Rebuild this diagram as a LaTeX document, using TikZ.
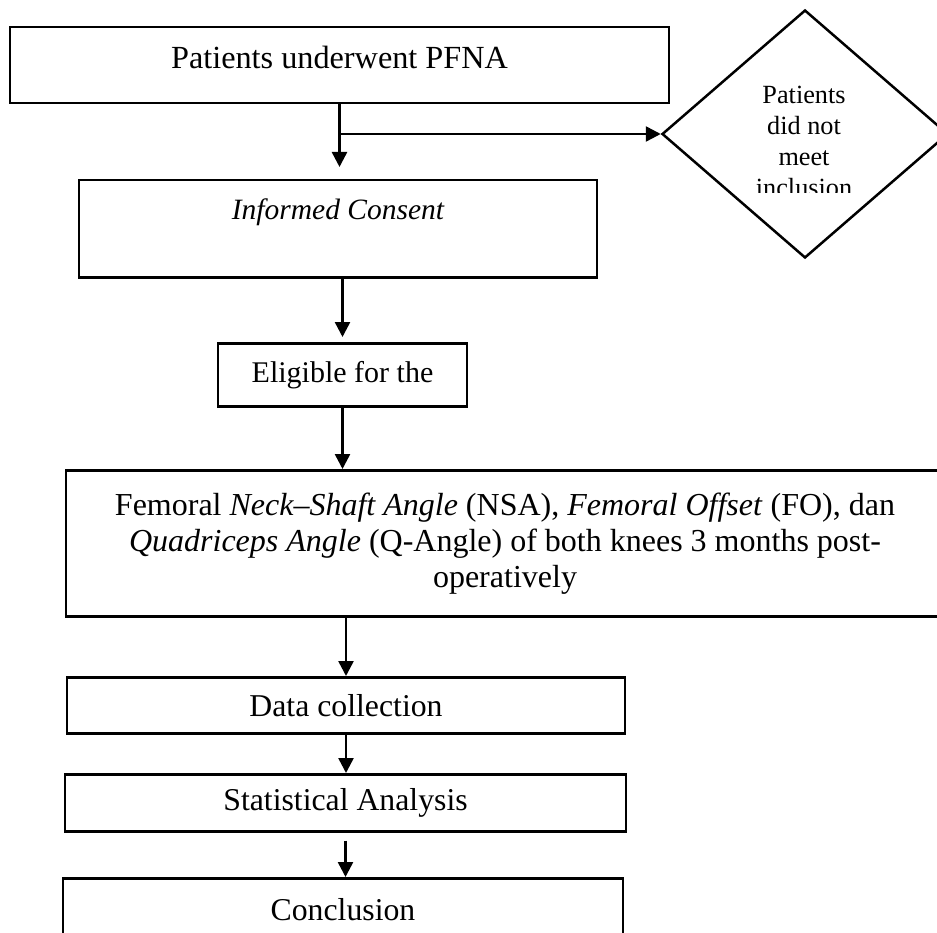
\documentclass[tikz,border=0pt]{standalone}
\usepackage{fontspec}
\setmainfont{Liberation Serif}
\usetikzlibrary{arrows.meta,shapes.geometric}

\begin{document}
\begin{tikzpicture}[x=0.4pt,y=-0.4pt,line width=1pt,>={Triangle[length=6pt,width=6pt]},
	box/.style={draw,rectangle,inner sep=0pt,anchor=north,align=center,font=\fontsize{12}{14.4}\selectfont},
	lowbox/.style={box,font=\fontsize{12.7}{14.4}\selectfont}]
			\useasboundingbox (0,0) rectangle (937,932);
			\node[box,minimum width=263.6pt,text height=16.4pt,text depth=14pt,font=\fontsize{12.9}{14.4}\selectfont] (pfna) at (339.5,26) {Patients underwent PFNA};
			\node[box,minimum width=207.2pt,text height=15.6pt,text depth=23.2pt,font=\fontsize{11.8}{14.4}\selectfont\itshape] (consent) at (338,179) {Informed Consent};
			\node[box,minimum width=99.6pt,minimum height=25.2pt] (elig) at (342.5,342) {Eligible for the};
			\node[box,minimum width=351.2pt,minimum height=58.4pt,font=\fontsize{12.8}{14.4}\selectfont] (meas) at (505,469) {Femoral \textit{Neck–Shaft Angle} (NSA), \textit{Femoral Offset} (FO), dan\\\textit{Quadriceps Angle} (Q-Angle) of both knees 3 months post-\\operatively};
			\node[lowbox,minimum width=223.2pt,minimum height=22.4pt] (collect) at (346,676) {Data collection};
			\node[lowbox,minimum width=224.4pt,minimum height=22.8pt] (stats) at (345.5,773) {Statistical Analysis};
			\node[lowbox,minimum width=224pt,minimum height=24.8pt] (concl) at (343,877) {Conclusion};
			\node[draw,diamond,inner sep=0pt,minimum width=114.4pt,minimum height=99.2pt] (excl) at (805,134) {};
			\begin{scope}
				\clip (700,60) rectangle (910,193);
				\node[inner sep=0pt,anchor=north,align=center,font=\fontsize{10.5}{12.4}\selectfont] (excltxt) at (804,85) {Patients\\did not\\meet\\inclusion};
			\end{scope}
			\draw[->,shorten >=4.8pt] (pfna.south) -- (pfna.south |- consent.north);
			\draw[->] (pfna.south |- excl.west) -- (excl.west);
			\draw[->,shorten >=2pt] (elig.north |- consent.south) -- (elig.north);
			\draw[->] (elig.south) -- (elig.south |- meas.north);
			\draw[->] (collect.north |- meas.south) -- (collect.north);
			\draw[->] (collect.south) -- (collect.south |- stats.north);
			\draw[->,shorten <=3.2pt] (stats.south) -- (stats.south |- concl.north);
\end{tikzpicture}
\end{document}
